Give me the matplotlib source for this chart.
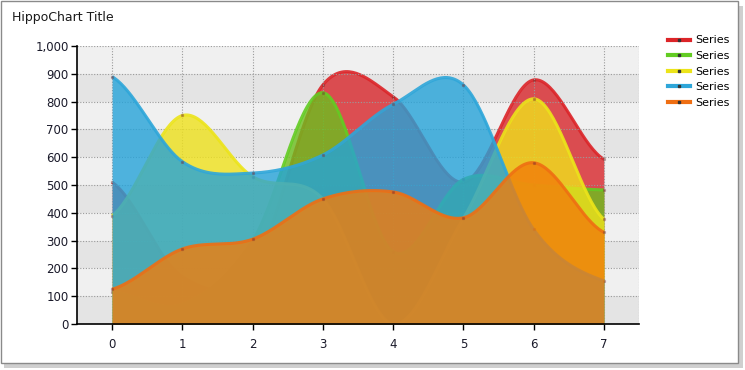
import numpy as np
import matplotlib.pyplot as plt
from matplotlib.patches import Rectangle
from matplotlib.lines import Line2D

# ---- data ----
x_vals = [0, 1, 2, 3, 4, 5, 6, 7]
red = [510, 170, 200, 860, 818, 510, 878, 593]
green = [115, 70, 300, 832, 260, 520, 500, 482]
yellow = [390, 750, 530, 450, 0, 380, 810, 377]
blue = [890, 584, 543, 608, 790, 860, 340, 155]
orange = [125, 270, 305, 450, 475, 382, 580, 330]
series_names = ['Series', 'Series', 'Series', 'Series', 'Series']
y_ticks = [0, 100, 200, 300, 400, 500, 600, 700, 800, 900, 1000]

line_colors = ['#dc2428', '#62cc22', '#ece41a', '#2ea6d9', '#ef6e12']
fill_colors = ['#d8262b', '#6cbf1e', '#efe21c', '#25a3d9', '#f27d0a']


def catmull_rom(xs, ys, n=40):
    xs = np.asarray(xs, float)
    ys = np.asarray(ys, float)
    # duplicate end points
    px = np.concatenate([[xs[0]], xs, [xs[-1]]])
    py = np.concatenate([[ys[0]], ys, [ys[-1]]])
    out_x, out_y = [], []
    for i in range(1, len(px) - 2):
        t = np.linspace(0, 1, n, endpoint=(i == len(px) - 3))
        m0 = (py[i + 1] - py[i - 1]) / 2
        m1 = (py[i + 2] - py[i]) / 2
        h00 = 2 * t**3 - 3 * t**2 + 1
        h10 = t**3 - 2 * t**2 + t
        h01 = -2 * t**3 + 3 * t**2
        h11 = t**3 - t**2
        out_y.append(h00 * py[i] + h10 * m0 + h01 * py[i + 1] + h11 * m1)
        out_x.append(px[i] + t * (px[i + 1] - px[i]))
    return np.concatenate(out_x), np.concatenate(out_y)


fig = plt.figure(figsize=(7.45, 3.70), dpi=100)
fig.patch.set_facecolor('white')

# outer frame with shadow
fig.patches.append(Rectangle((4 / 745, 2 / 370), 739 / 745, 362 / 370, transform=fig.transFigure,
                             facecolor='#cfcfcf', edgecolor='none', zorder=-3))
fig.patches.append(Rectangle((1 / 745, 7 / 370), 737 / 745, 362 / 370, transform=fig.transFigure,
                             facecolor='white', edgecolor='#8a8a8a', linewidth=1, zorder=-2))

ax = fig.add_axes([77 / 745, 46 / 370, 562 / 745, 278 / 370])
ax.set_xlim(-0.5, 7.5)
ax.set_ylim(0, 1000)

# alternating bands
for i in range(10):
    ax.axhspan(i * 100, (i + 1) * 100, color='#e4e4e4' if i % 2 == 0 else '#f0f0f0', zorder=0, lw=0)

all_series = [red, green, yellow, blue, orange]
for k, ys in enumerate(all_series):
    sx, sy = catmull_rom(x_vals, ys)
    ax.fill_between(sx, 0, sy, color=fill_colors[k], alpha=0.8, lw=0, zorder=2 + k)
    ax.plot(sx, sy, color=line_colors[k], lw=2.2, alpha=0.9, zorder=2 + k,
            solid_capstyle='butt')
    ax.plot(x_vals, ys, ls='none', marker='s', ms=1.3, color='#7a3030', alpha=0.35, zorder=2 + k)

ax.set_xticks(x_vals)
ax.set_yticks(y_ticks)
ax.set_yticklabels([f'{v:,}' for v in y_ticks])
ax.tick_params(axis='both', labelsize=8.5, length=4, width=1, color='black', direction='out',
               labelcolor='#1a1a2a')
ax.tick_params(axis='x', pad=6)
ax.tick_params(axis='y', pad=2)
for s in ['top', 'right']:
    ax.spines[s].set_visible(False)
for s in ['left', 'bottom']:
    ax.spines[s].set_color('black')
    ax.spines[s].set_linewidth(1.2)
    ax.spines[s].set_zorder(10)
ax.grid(True, color='#9a9a9a', linestyle=(0, (1, 1.5)), linewidth=0.8, zorder=1)
ax.set_axisbelow(False)
ax.axvline(7.5, color='#9a9a9a', ls=(0, (1, 1.5)), lw=0.8)

fig.text(12 / 745, 1 - 18 / 370, 'HippoChart Title', fontsize=9, va='center', ha='left', color='#1a1a1a')

handles = [Line2D([0], [0], color=c, lw=3, marker='s', ms=1.5, mfc='#333333', mec='#333333')
           for c in line_colors]
leg = fig.legend(handles, series_names, loc='upper left', bbox_to_anchor=(664 / 745, 1 - 31 / 370),
                 frameon=False, fontsize=8, handlelength=1.9, handletextpad=0.55,
                 labelspacing=0.5, borderaxespad=0)

fig.savefig('out.png', dpi=100)
